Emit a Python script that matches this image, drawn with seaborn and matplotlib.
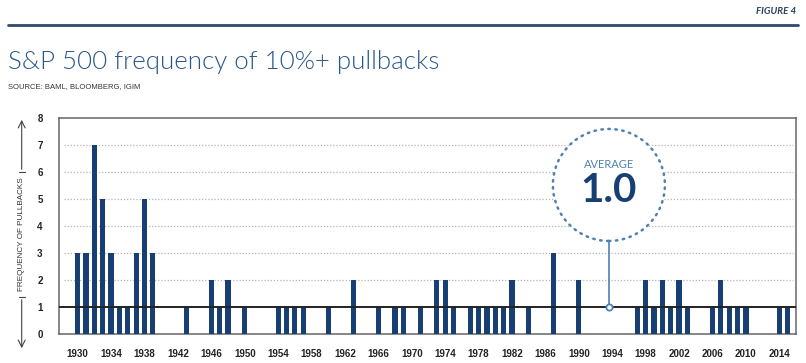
import pandas as pd
import seaborn as sns
import matplotlib.pyplot as plt
from matplotlib.patches import Ellipse

# data
years = [1930, 1931, 1932, 1933, 1934, 1935, 1936, 1937, 1938, 1939,
         1943, 1946, 1947, 1948, 1950, 1954, 1955, 1956, 1957, 1960,
         1963, 1966, 1968, 1969, 1971, 1973, 1974, 1975, 1977, 1978,
         1979, 1980, 1981, 1982, 1984, 1987, 1990, 1997, 1998, 1999,
         2000, 2001, 2002, 2003, 2006, 2007, 2008, 2009, 2010, 2014,
         2015]
pullbacks = [3, 3, 7, 5, 3, 1, 1, 3, 5, 3,
             1, 2, 1, 2, 1, 1, 1, 1, 1, 1,
             2, 1, 1, 1, 1, 2, 2, 1, 1, 1,
             1, 1, 1, 2, 1, 3, 2, 1, 2, 1,
             2, 1, 2, 1, 1, 2, 1, 1, 1, 1,
             1]
tick_years = list(range(1930, 2015, 4))
average = 1.0
average_x = 1993.6

navy = "#173f73"
steel = "#4f81b3"
title_blue = "#27578a"

sns.set_style("white")
plt.rcParams["font.family"] = ["Lato", "DejaVu Sans"]

df = pd.DataFrame({"year": years, "count": pullbacks})

fig = plt.figure(figsize=(8.06, 3.63), dpi=100)
ax = fig.add_axes([59.3 / 806, 29 / 363, (796 - 59.3) / 806, 216 / 363])

sns.barplot(data=df, x="year", y="count", native_scale=True, width=0.63,
            color=navy, saturation=1, linewidth=0, ax=ax, zorder=3)

ax.set_xlim(1927.8, 2016.0)
ax.set_ylim(0, 8)

# dotted grid
for lvl in range(2, 8):
    ax.plot([1928.4, 2015.7], [lvl, lvl], color="#b5b5b5", lw=0.9,
            linestyle=(0, (1, 1.5)), zorder=1)

ax.axhline(average, color="#222222", lw=1.4, zorder=4)

# average callout
circ_y = 5.52
circle = Ellipse((average_x, circ_y), width=2 * 56 / 8.353, height=2 * 56 / 27,
                 facecolor="white", edgecolor=steel, lw=1.8,
                 linestyle=(0, (0.6, 2.2)), capstyle="round", zorder=5)
ax.add_patch(circle)
ax.plot([average_x, average_x], [circ_y - 56 / 27, average], color=steel,
        lw=1.2, zorder=5)
ax.plot([average_x], [average], marker="o", ms=4.5, mfc="white", mec=steel,
        mew=1.3, zorder=6)
ax.text(average_x, 6.26, "AVERAGE", ha="center", va="center", fontsize=8,
        color=steel, zorder=6)
ax.text(average_x, 5.3, f"{average:.1f}", ha="center", va="center",
        fontsize=29, fontweight="bold", color=navy, zorder=6)

ax.set_xticks(tick_years)
ax.set_xticklabels([str(y) for y in tick_years])
ax.set_yticks(range(0, 9))
ax.tick_params(axis="both", length=0, labelsize=7, labelcolor="#222222")
ax.tick_params(axis="x", pad=11)
ax.tick_params(axis="y", pad=12)
for lab in ax.get_xticklabels() + ax.get_yticklabels():
    lab.set_fontweight("bold")
    lab.set_family(["Liberation Sans", "DejaVu Sans"])
ax.set_xlabel("")
ax.set_ylabel("")
for side in ["left", "right", "top", "bottom"]:
    ax.spines[side].set_color("#666666")
    ax.spines[side].set_linewidth(1.1)
    ax.spines[side].set_visible(True)

# y axis label with arrows
lx = 21.7 / 806
fig.text(lx, 1 - 234 / 363, "FREQUENCY OF PULLBACKS", rotation=90,
         ha="center", va="center", fontsize=5.9, color="#333333",
         family=["Liberation Sans", "DejaVu Sans"])
arrow_kw = dict(arrowstyle="->, head_width=0.25, head_length=0.5",
                color="#444444", lw=0.8)
for tail, tip in [(172, 117), (297, 351)]:
    fig.add_artist(plt.Annotation("", xy=(lx, 1 - tip / 363), xycoords="figure fraction",
                                  xytext=(lx, 1 - tail / 363), textcoords="figure fraction",
                                  arrowprops=arrow_kw))
    fig.add_artist(plt.Line2D([lx - 3 / 806, lx + 3 / 806], [1 - tail / 363, 1 - tail / 363],
                              color="#444444", lw=0.8))

# header
fig.text(796 / 806, 1 - 12 / 363, "FIGURE 4", ha="right", va="center", fontsize=7,
         fontweight="bold", fontstyle="italic", color="#2b3f5c")
fig.add_artist(plt.Line2D([8 / 806, 798 / 806], [1 - 24.5 / 363, 1 - 24.5 / 363],
                          color="#2e4a6b", lw=2))
fig.text(8 / 806, 1 - 62 / 363, "S&P 500 frequency of 10%+ pullbacks", ha="left",
         va="center", fontsize=18.6, fontweight=300, color=title_blue)
fig.text(8 / 806, 1 - 87 / 363, "SOURCE: BAML, BLOOMBERG, IGIM", ha="left", va="center",
         fontsize=5.5, color="#333333", family=["Liberation Sans", "DejaVu Sans"])

plt.savefig("out.png", dpi=100)
plt.close()
